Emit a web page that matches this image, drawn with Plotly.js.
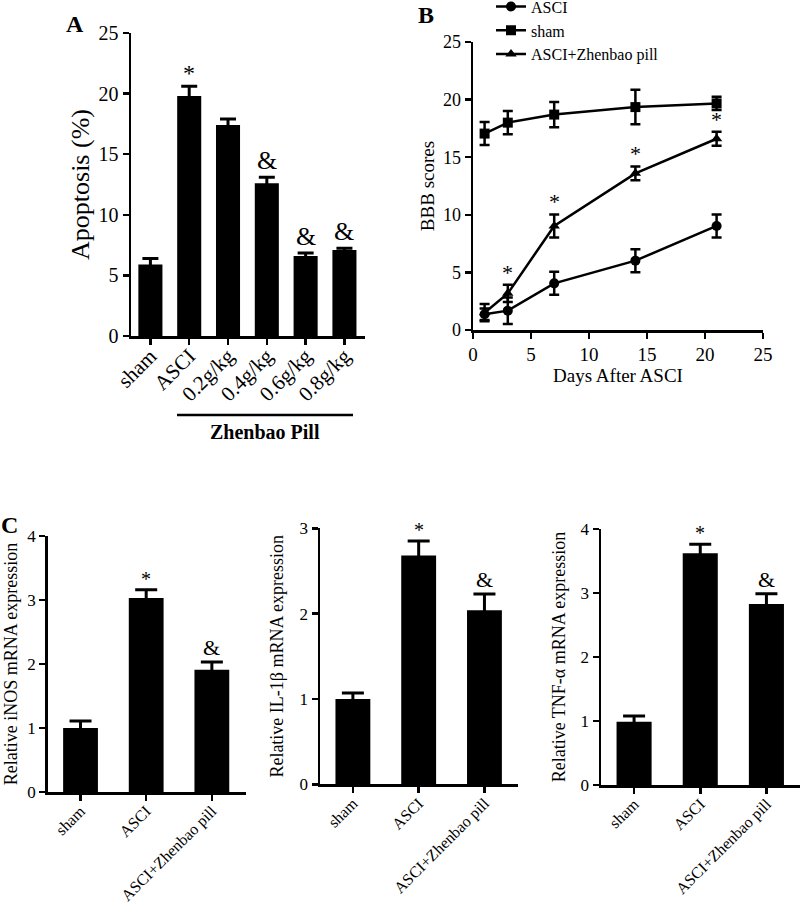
<!DOCTYPE html>
<html><head><meta charset="utf-8">
<script src="https://cdn.plot.ly/plotly-3.0.1.min.js"></script>
<style>html,body{margin:0;padding:0;background:#fff}</style>
</head><body><div id="chart" style="width:800px;height:903px"></div>
<script>
// ---- Panel A data ----
const A_groups = ['sham', 'ASCI', '0.2g/kg', '0.4g/kg', '0.6g/kg', '0.8g/kg'];
const A_values = [5.9, 19.8, 17.4, 12.6, 6.6, 7.1];
const A_err = [0.5, 0.8, 0.5, 0.5, 0.25, 0.15];
const A_marks = ['', '*', '', '&', '&', '&'];

// ---- Panel B data ----
const B_days = [1, 3, 7, 14, 21];
const B_asci = [1.36, 1.68, 4.05, 6.02, 9.03];
const B_asci_err = [0.5, 1.15, 1.0, 1.0, 1.0];
const B_sham = [17.05, 18.0, 18.7, 19.35, 19.67];
const B_sham_err = [1.0, 1.0, 1.1, 1.5, 0.57];
const B_zb = [1.5, 3.18, 9.03, 13.6, 16.6];
const B_zb_err = [0.75, 0.75, 1.0, 0.6, 0.6];
const B_zb_marks = ['', '*', '*', '*', '*'];

// ---- Panel C data ----
const C_groups = ['sham', 'ASCI', 'ASCI+Zhenbao pill'];
const C_inos = [1.0, 3.03, 1.91];
const C_inos_err = [0.11, 0.13, 0.12];
const C_il1b = [1.0, 2.68, 2.04];
const C_il1b_err = [0.07, 0.17, 0.19];
const C_tnfa = [0.99, 3.62, 2.83];
const C_tnfa_err = [0.09, 0.14, 0.16];
const C_marks = ['', '*', '&'];

const FONT = 'Liberation Serif, serif';
const W = 800, H = 903;
const px = x => x / W;
const py = y => 1 - y / H;

function axisStyle(size, extra) {
  return Object.assign({
    showline: true, linecolor: 'black', linewidth: 2.5,
    ticks: 'outside', ticklen: 6, tickwidth: 2.5, tickcolor: 'black',
    showgrid: false, zeroline: false, fixedrange: true,
    tickfont: {family: FONT, size: size, color: 'black'}
  }, extra);
}

function barTrace(xs, ys, errs, xa, ya, errW) {
  return {
    type: 'bar', x: xs, y: ys, xaxis: xa, yaxis: ya, showlegend: false,
    marker: {color: 'black', line: {width: 0}},
    error_y: {type: 'data', array: errs, visible: true, color: 'black', thickness: 3, width: errW}
  };
}

function lineTrace(name, xs, ys, errs, symbol) {
  return {
    type: 'scatter', mode: 'lines+markers', name: name, x: xs, y: ys,
    xaxis: 'x2', yaxis: 'y2',
    line: {color: 'black', width: 2.5},
    marker: {color: 'black', size: 10, symbol: symbol},
    error_y: {type: 'data', array: errs, visible: true, color: 'black', thickness: 2.5, width: 5}
  };
}

const traces = [
  Object.assign(barTrace(A_groups, A_values, A_err, 'x', 'y', 8), {width: 0.62}),
  lineTrace('ASCI', B_days, B_asci, B_asci_err, 'circle'),
  lineTrace('sham', B_days, B_sham, B_sham_err, 'square'),
  lineTrace('ASCI+Zhenbao pill', B_days, B_zb, B_zb_err, 'triangle-up'),
  Object.assign(barTrace(C_groups, C_inos, C_inos_err, 'x3', 'y3', 11), {width: 0.53}),
  Object.assign(barTrace(C_groups, C_il1b, C_il1b_err, 'x4', 'y4', 11), {width: 0.53}),
  Object.assign(barTrace(C_groups, C_tnfa, C_tnfa_err, 'x5', 'y5', 11), {width: 0.53})
];

const annotations = [];
function addMarks(xs, ys, errs, marks, xa, ya, size) {
  marks.forEach((m, i) => {
    if (!m) return;
    annotations.push({
      x: xs[i], y: ys[i] + errs[i], xref: xa, yref: ya, text: m, showarrow: false,
      yanchor: 'bottom', font: {family: FONT, size: m === '*' ? size : size + 2, color: 'black'},
      yshift: m === '*' ? -2 : 0
    });
  });
}
addMarks(A_groups, A_values, A_err, A_marks, 'x', 'y', 24);
addMarks(B_days, B_zb, B_zb_err, B_zb_marks, 'x2', 'y2', 22);
addMarks(C_groups, C_inos, C_inos_err, C_marks, 'x3', 'y3', 20);
addMarks(C_groups, C_il1b, C_il1b_err, C_marks, 'x4', 'y4', 20);
addMarks(C_groups, C_tnfa, C_tnfa_err, C_marks, 'x5', 'y5', 20);

// panel letters & group label
const letter = (t, x, y) => ({text: '<b>' + t + '</b>', x: px(x), y: py(y), xref: 'paper', yref: 'paper',
  showarrow: false, xanchor: 'left', yanchor: 'middle', font: {family: FONT, size: 24, color: 'black'}});
annotations.push(letter('A', 64, 24));
annotations.push(letter('B', 416, 15));
annotations.push(letter('C', -1, 525));
annotations.push({text: '<b>Zhenbao Pill</b>', x: px(265), y: py(432), xref: 'paper', yref: 'paper',
  showarrow: false, xanchor: 'center', yanchor: 'middle', font: {family: FONT, size: 20, color: 'black'}});

const titleFont = s => ({family: FONT, size: s, color: 'black'});

const layout = {
  width: W, height: H, margin: {l: 0, r: 0, t: 0, b: 0, autoexpand: false},
  paper_bgcolor: 'white', plot_bgcolor: 'white',
  font: {family: FONT, color: 'black'},
  showlegend: true,
  legend: {x: px(491), y: 1.0115, xanchor: 'left', yanchor: 'top', bgcolor: 'rgba(0,0,0,0)',
    font: {family: FONT, size: 16, color: 'black'}, tracegroupgap: 0, itemwidth: 30},
  xaxis: axisStyle(21, {domain: [px(131), px(365)], anchor: 'y', range: [-0.5, 5.53], tickangle: -45,
    type: 'category', ticklabelstandoff: -9}),
  yaxis: axisStyle(20, {domain: [py(336), py(33)], anchor: 'x', range: [0, 25], tickvals: [0, 5, 10, 15, 20, 25],
    title: {text: 'Apoptosis (%)', font: titleFont(26), standoff: 2}}),
  xaxis2: axisStyle(19, {domain: [px(473), px(763)], anchor: 'y2', range: [0, 25], tickvals: [0, 5, 10, 15, 20, 25],
    title: {text: 'Days After ASCI', font: titleFont(19), standoff: 0}}),
  yaxis2: axisStyle(18, {domain: [py(330), py(42)], anchor: 'x2', range: [0, 25], tickvals: [0, 5, 10, 15, 20, 25],
    title: {text: 'BBB scores', font: titleFont(19), standoff: 4}}),
  xaxis3: axisStyle(16, {domain: [px(47.7), px(246)], anchor: 'y3', range: [-0.5, 2.52], tickangle: -45,
    type: 'category', ticklabelstandoff: -5}),
  yaxis3: axisStyle(17, {domain: [py(792), py(536)], anchor: 'x3', range: [0, 4], tickvals: [0, 1, 2, 3, 4],
    title: {text: 'Relative iNOS mRNA expression', font: titleFont(18), standoff: 5}}),
  xaxis4: axisStyle(16, {domain: [px(320), px(518)], anchor: 'y4', range: [-0.5, 2.51], tickangle: -45,
    type: 'category', ticklabelstandoff: -5}),
  yaxis4: axisStyle(17, {domain: [py(784.3), py(528.3)], anchor: 'x4', range: [0, 3], tickvals: [0, 1, 2, 3],
    title: {text: 'Relative IL-1β mRNA expression', font: titleFont(18), standoff: 12}}),
  xaxis5: axisStyle(16, {domain: [px(601), px(799.5)], anchor: 'y5', range: [-0.5, 2.5], tickangle: -45,
    type: 'category', ticklabelstandoff: -5}),
  yaxis5: axisStyle(17, {domain: [py(785), py(529)], anchor: 'x5', range: [0, 4], tickvals: [0, 1, 2, 3, 4],
    title: {text: 'Relative TNF-α mRNA expression', font: titleFont(18), standoff: 11}}),
  shapes: [{type: 'line', xref: 'paper', yref: 'paper', x0: px(177), x1: px(353), y0: py(415), y1: py(415),
    line: {color: 'black', width: 2.5}}],
  annotations: annotations
};

Plotly.newPlot('chart', traces, layout, {displayModeBar: false, staticPlot: true});
</script></body></html>
